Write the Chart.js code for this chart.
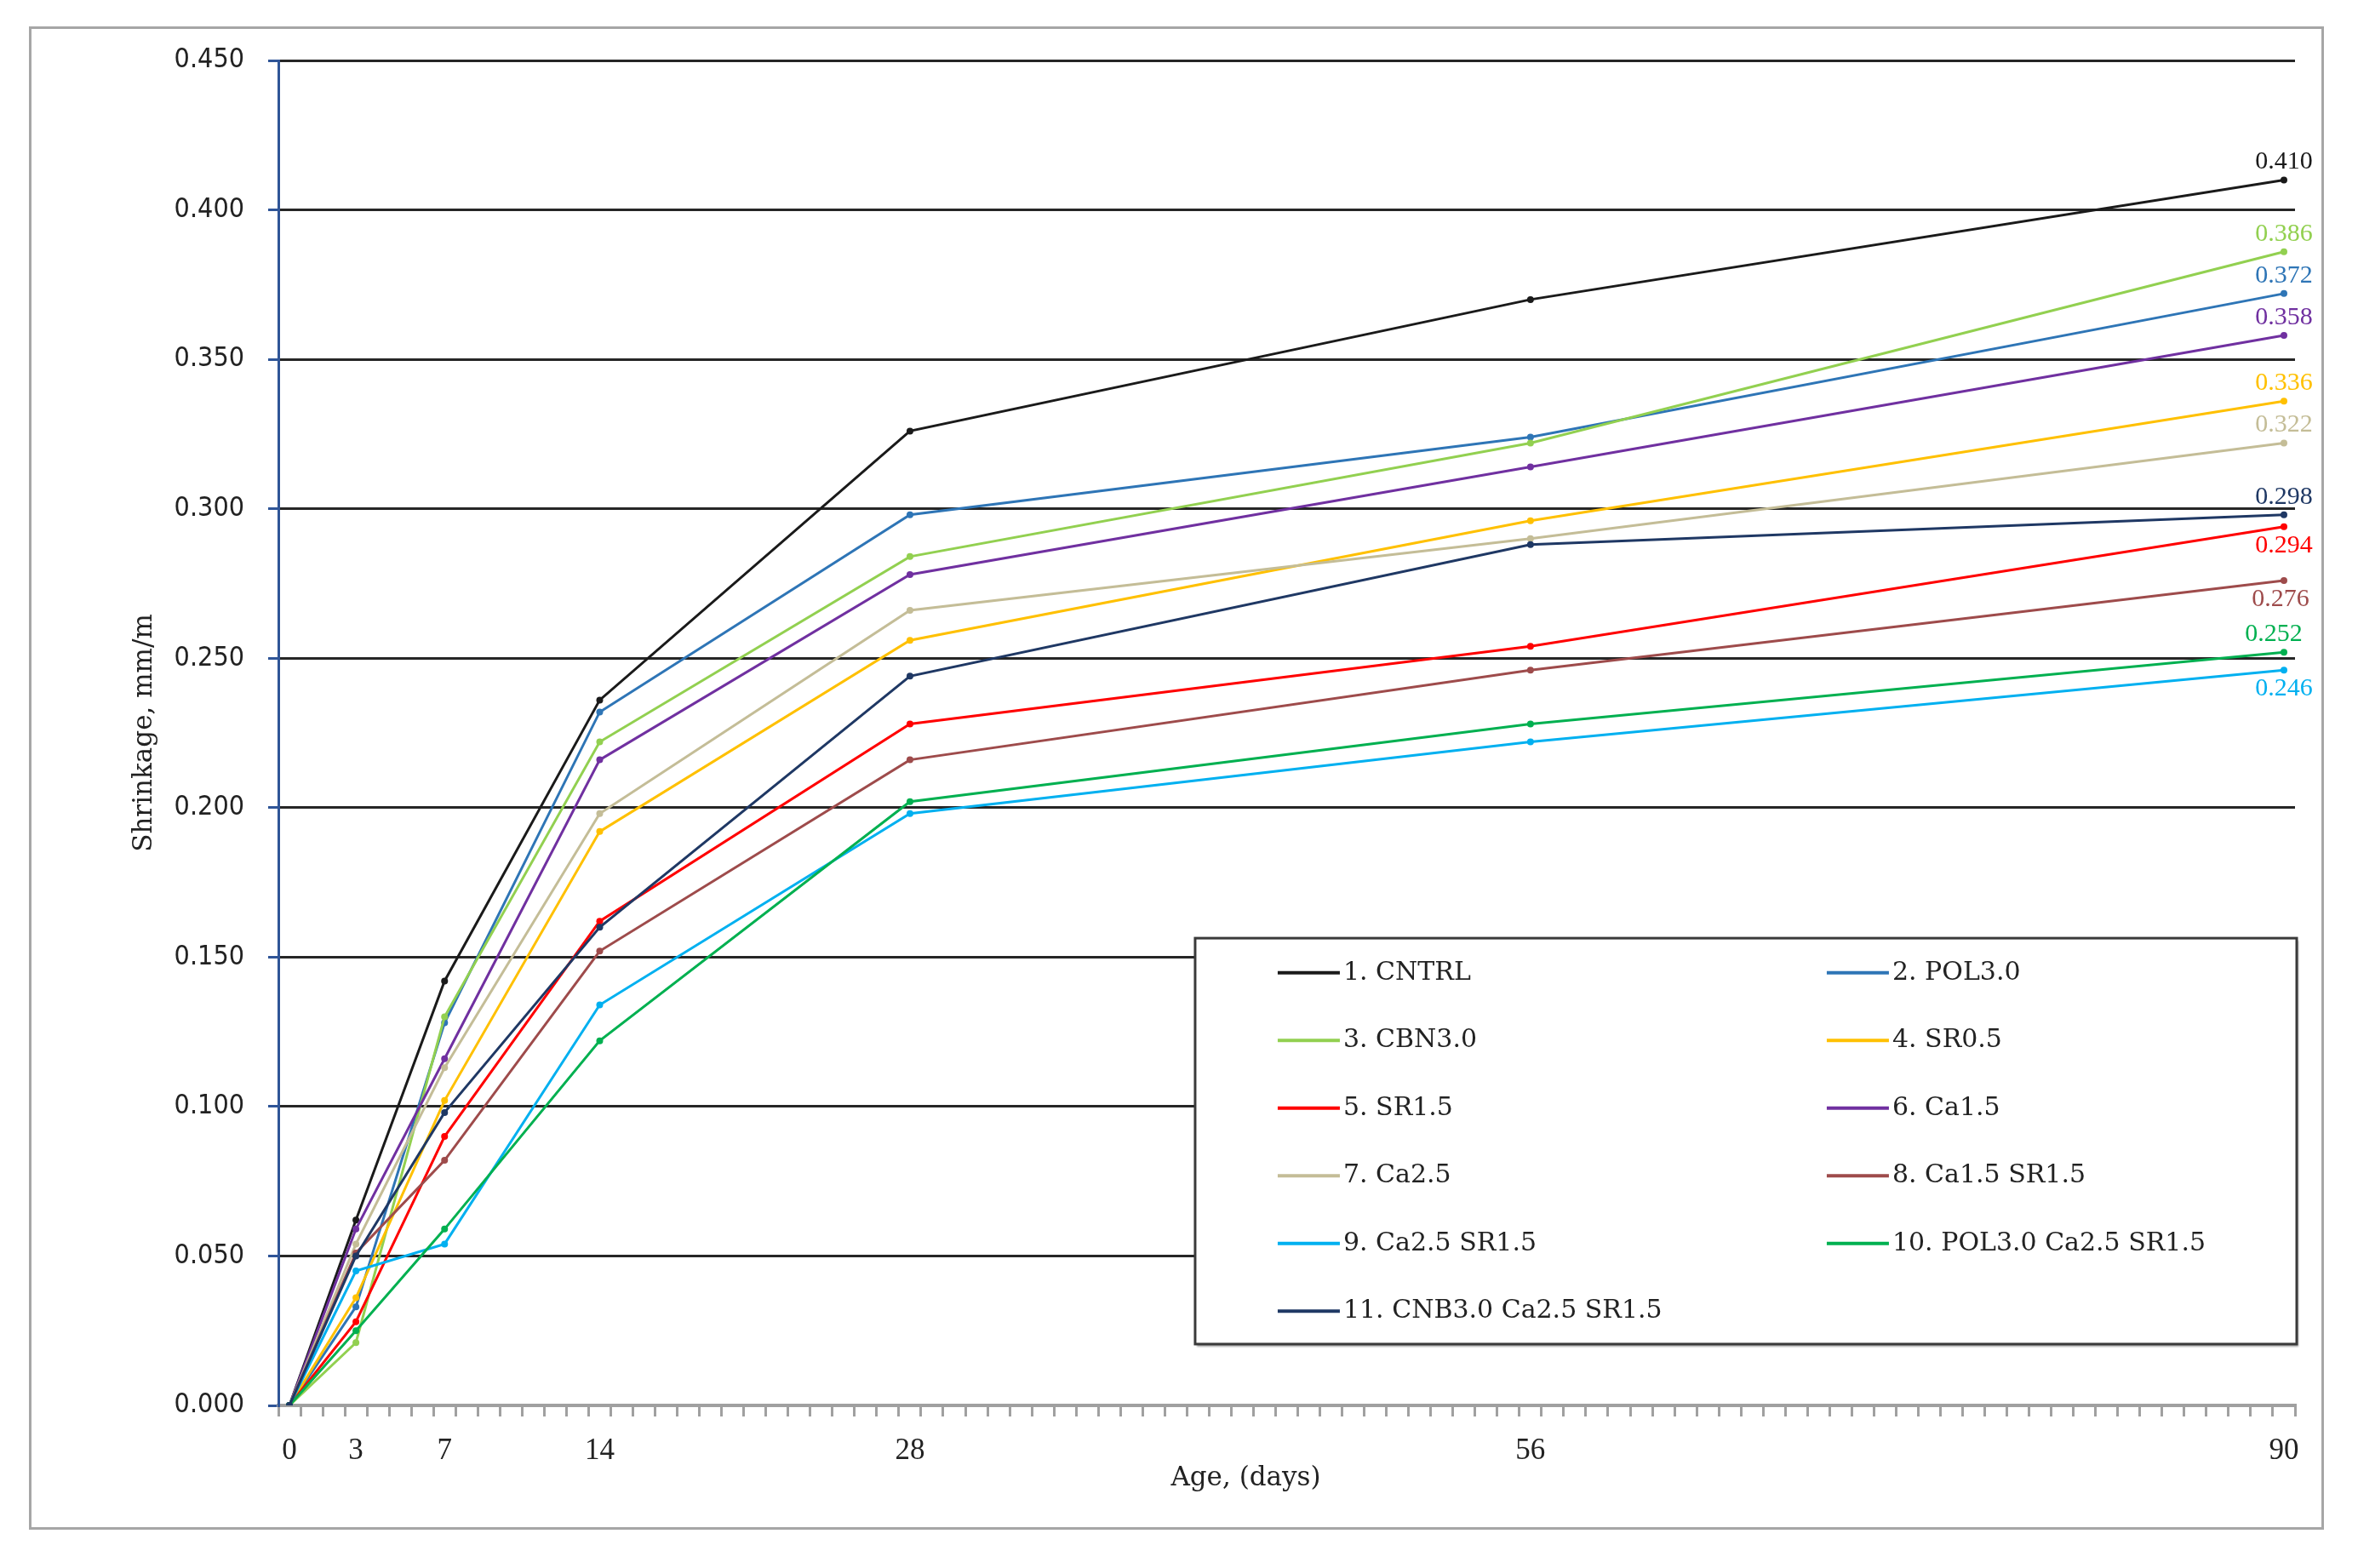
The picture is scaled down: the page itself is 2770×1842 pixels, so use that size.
<!DOCTYPE html>
<html>
<head>
<meta charset="utf-8">
<script src="https://cdn.jsdelivr.net/npm/chart.js@4.4.1/dist/chart.umd.min.js"></script>
<style>
  html, body { margin: 0; padding: 0; background: #fff; }
  #frame { position: absolute; left: 34px; top: 31px; width: 2690px; height: 1760px; border: 3px solid #a6a6a6; }
  canvas { display: block; }
</style>
</head>
<body>
<div id="frame"><canvas id="shrinkage" width="2690" height="1760"></canvas></div>
<script>
// age in days and the days that get a label on the axis
var days = [0, 3, 7, 14, 28, 56, 90];
var labelDays = [0, 3, 7, 14, 28, 56, 90];

// shrinkage, mm/m
var cntrl      = [0, 0.062, 0.142, 0.236, 0.326, 0.370, 0.410];
var pol30      = [0, 0.033, 0.128, 0.232, 0.298, 0.324, 0.372];
var cbn30      = [0, 0.021, 0.130, 0.222, 0.284, 0.322, 0.386];
var sr05       = [0, 0.036, 0.102, 0.192, 0.256, 0.296, 0.336];
var sr15       = [0, 0.028, 0.090, 0.162, 0.228, 0.254, 0.294];
var ca15       = [0, 0.059, 0.116, 0.216, 0.278, 0.314, 0.358];
var ca25       = [0, 0.054, 0.113, 0.198, 0.266, 0.290, 0.322];
var ca15sr15   = [0, 0.051, 0.082, 0.152, 0.216, 0.246, 0.276];
var ca25sr15   = [0, 0.045, 0.054, 0.134, 0.198, 0.222, 0.246];
var polCaSr    = [0, 0.025, 0.059, 0.122, 0.202, 0.228, 0.252];
var cnbCaSr    = [0, 0.050, 0.098, 0.160, 0.244, 0.288, 0.298];

var seriesNames = ['1. CNTRL', '2. POL3.0', '3. CBN3.0', '4. SR0.5', '5. SR1.5', '6. Ca1.5',
    '7. Ca2.5', '8. Ca1.5 SR1.5', '9. Ca2.5 SR1.5', '10. POL3.0 Ca2.5 SR1.5', '11. CNB3.0 Ca2.5 SR1.5'];
var seriesValues = [cntrl, pol30, cbn30, sr05, sr15, ca15, ca25, ca15sr15, ca25sr15, polCaSr, cnbCaSr];
var seriesColors = ['#1a1a1a', '#2E75B6', '#92D050', '#FFC000', '#FF0000', '#7030A0',
    '#C4BD97', '#9E4B4B', '#00B0F0', '#00B050', '#1F3864'];
var labelSide = ['above', 'above', 'above', 'above', 'below', 'above', 'above', 'below', 'below', 'above', 'above'];
var labelShift = [0, 0, 0, 0, 0, 0, 0, -4, 0, -12, 0];
var xTitle = 'Age, (days)';

var datasets = seriesNames.map(function(name, i) {
    return {
        label: name,
        data: seriesValues[i],
        borderColor: seriesColors[i],
        backgroundColor: seriesColors[i],
        borderWidth: 3,
        pointStyle: 'circle',
        pointRadius: 4,
        pointBorderWidth: 0,
        tension: 0,
        order: seriesNames.length - i,
        endLabel: labelSide[i],
        endLabelDx: labelShift[i]
    };
});

// value labels at 90 days
var endLabels = {
    id: 'endLabels',
    afterDatasetsDraw: function(chart) {
        var ctx = chart.ctx;
        ctx.save();
        ctx.font = "30px 'Liberation Serif', serif";
        ctx.textAlign = 'center';
        ctx.textBaseline = 'middle';
        chart.data.datasets.forEach(function(ds, i) {
            var meta = chart.getDatasetMeta(i);
            var pt = meta.data[meta.data.length - 1];
            var v = ds.data[ds.data.length - 1];
            var dy = ds.endLabel === 'below' ? 22 : -21;
            ctx.fillStyle = ds.borderColor;
            ctx.fillText(v.toFixed(3), pt.x + ds.endLabelDx, pt.y + dy);
        });
        ctx.restore();
    }
};

// x axis title, set a little left of centre like the original
var ageTitle = {
    id: 'ageTitle',
    afterDraw: function(chart) {
        var s = chart.scales.x, ctx = chart.ctx;
        ctx.save();
        ctx.font = "31px 'DejaVu Serif', serif";
        ctx.fillStyle = '#222';
        ctx.textAlign = 'center';
        ctx.textBaseline = 'middle';
        ctx.fillText(xTitle, (s.left + s.right) / 2 - 48, s.bottom - 57);
        ctx.restore();
    }
};

// boxed legend inside the plot, two columns
var boxLegend = {
    id: 'boxLegend',
    afterDraw: function(chart) {
        var a = chart.chartArea, ctx = chart.ctx;
        var left = a.left + (a.right - a.left) * 0.4546;
        var right = a.right + 2;
        var top = a.top + (a.bottom - a.top) * 0.6526;
        var bottom = a.top + (a.bottom - a.top) * 0.9544;
        ctx.save();
        ctx.shadowColor = 'rgba(0,0,0,0.35)';
        ctx.shadowOffsetX = 2;
        ctx.shadowOffsetY = 3;
        ctx.shadowBlur = 2;
        ctx.fillStyle = '#fff';
        ctx.fillRect(left, top, right - left, bottom - top);
        ctx.shadowColor = 'transparent';
        ctx.strokeStyle = '#3a3a3a';
        ctx.lineWidth = 3;
        ctx.strokeRect(left, top, right - left, bottom - top);
        ctx.font = "30px 'DejaVu Serif', serif";
        ctx.textBaseline = 'middle';
        ctx.textAlign = 'left';
        chart.data.datasets.forEach(function(ds, i) {
            var col = i % 2, row = Math.floor(i / 2);
            var y = top + 40.7 + row * 79.5;
            var x0 = left + (col ? 742 : 97);
            ctx.strokeStyle = ds.borderColor;
            ctx.lineWidth = 4;
            ctx.beginPath();
            ctx.moveTo(x0, y);
            ctx.lineTo(x0 + 73, y);
            ctx.stroke();
            ctx.fillStyle = '#222';
            ctx.fillText(ds.label, x0 + 77, y);
        });
        ctx.restore();
    }
};

new Chart(document.getElementById('shrinkage'), {
    type: 'line',
    data: {
        labels: days,
        datasets: datasets
    },
    plugins: [endLabels, ageTitle, boxLegend],
    options: {
        responsive: false,
        animation: false,
        devicePixelRatio: 1,
        layout: {
            padding: { left: 0, right: 31, top: 37, bottom: 0 }
        },
        plugins: {
            legend: { display: false },
            tooltip: { enabled: false }
        },
        scales: {
            x: {
                type: 'linear',
                min: -0.5,
                max: 90.5,
                afterBuildTicks: function(scale) {
                    var t = [];
                    for (var d = 0; d <= 90; d++) t.push({ value: d });
                    scale.ticks = t;
                },
                afterFit: function(scale) {
                    scale.height = 143;
                },
                ticks: {
                    autoSkip: false,
                    maxRotation: 0,
                    minRotation: 0,
                    padding: 20,
                    color: '#222',
                    font: { family: "'Liberation Serif', serif", size: 35 },
                    callback: function(value) {
                        return labelDays.indexOf(value) >= 0 ? String(value) : '';
                    }
                },
                grid: {
                    offset: true,
                    drawOnChartArea: false,
                    drawTicks: true,
                    tickLength: 13,
                    color: '#a0a0a0',
                    lineWidth: 3
                },
                border: { color: '#a0a0a0', width: 4 },
                title: { display: false }
            },
            y: {
                min: 0,
                max: 0.45,
                afterFit: function(scale) {
                    scale.width = 290;
                    scale.paddingTop = 0;
                    scale.paddingBottom = 0;
                },
                ticks: {
                    stepSize: 0.05,
                    padding: 28,
                    color: '#222',
                    font: { family: "'DejaVu Sans Condensed', 'Liberation Sans', sans-serif", size: 32 },
                    callback: function(value) {
                        return value.toFixed(3);
                    }
                },
                grid: {
                    color: function(c) {
                        return c.tick && c.tick.value === 0 ? 'rgba(0,0,0,0)' : '#262626';
                    },
                    lineWidth: 3,
                    tickLength: 12,
                    tickColor: '#2F5597'
                },
                border: { color: '#2F5597', width: 3 },
                title: {
                    display: true,
                    text: 'Shrinkage, mm/m',
                    color: '#222',
                    font: { family: "'DejaVu Serif', serif", size: 31 },
                    padding: { top: 114, bottom: 0 }
                }
            }
        }
    }
});
</script>
</body>
</html>
